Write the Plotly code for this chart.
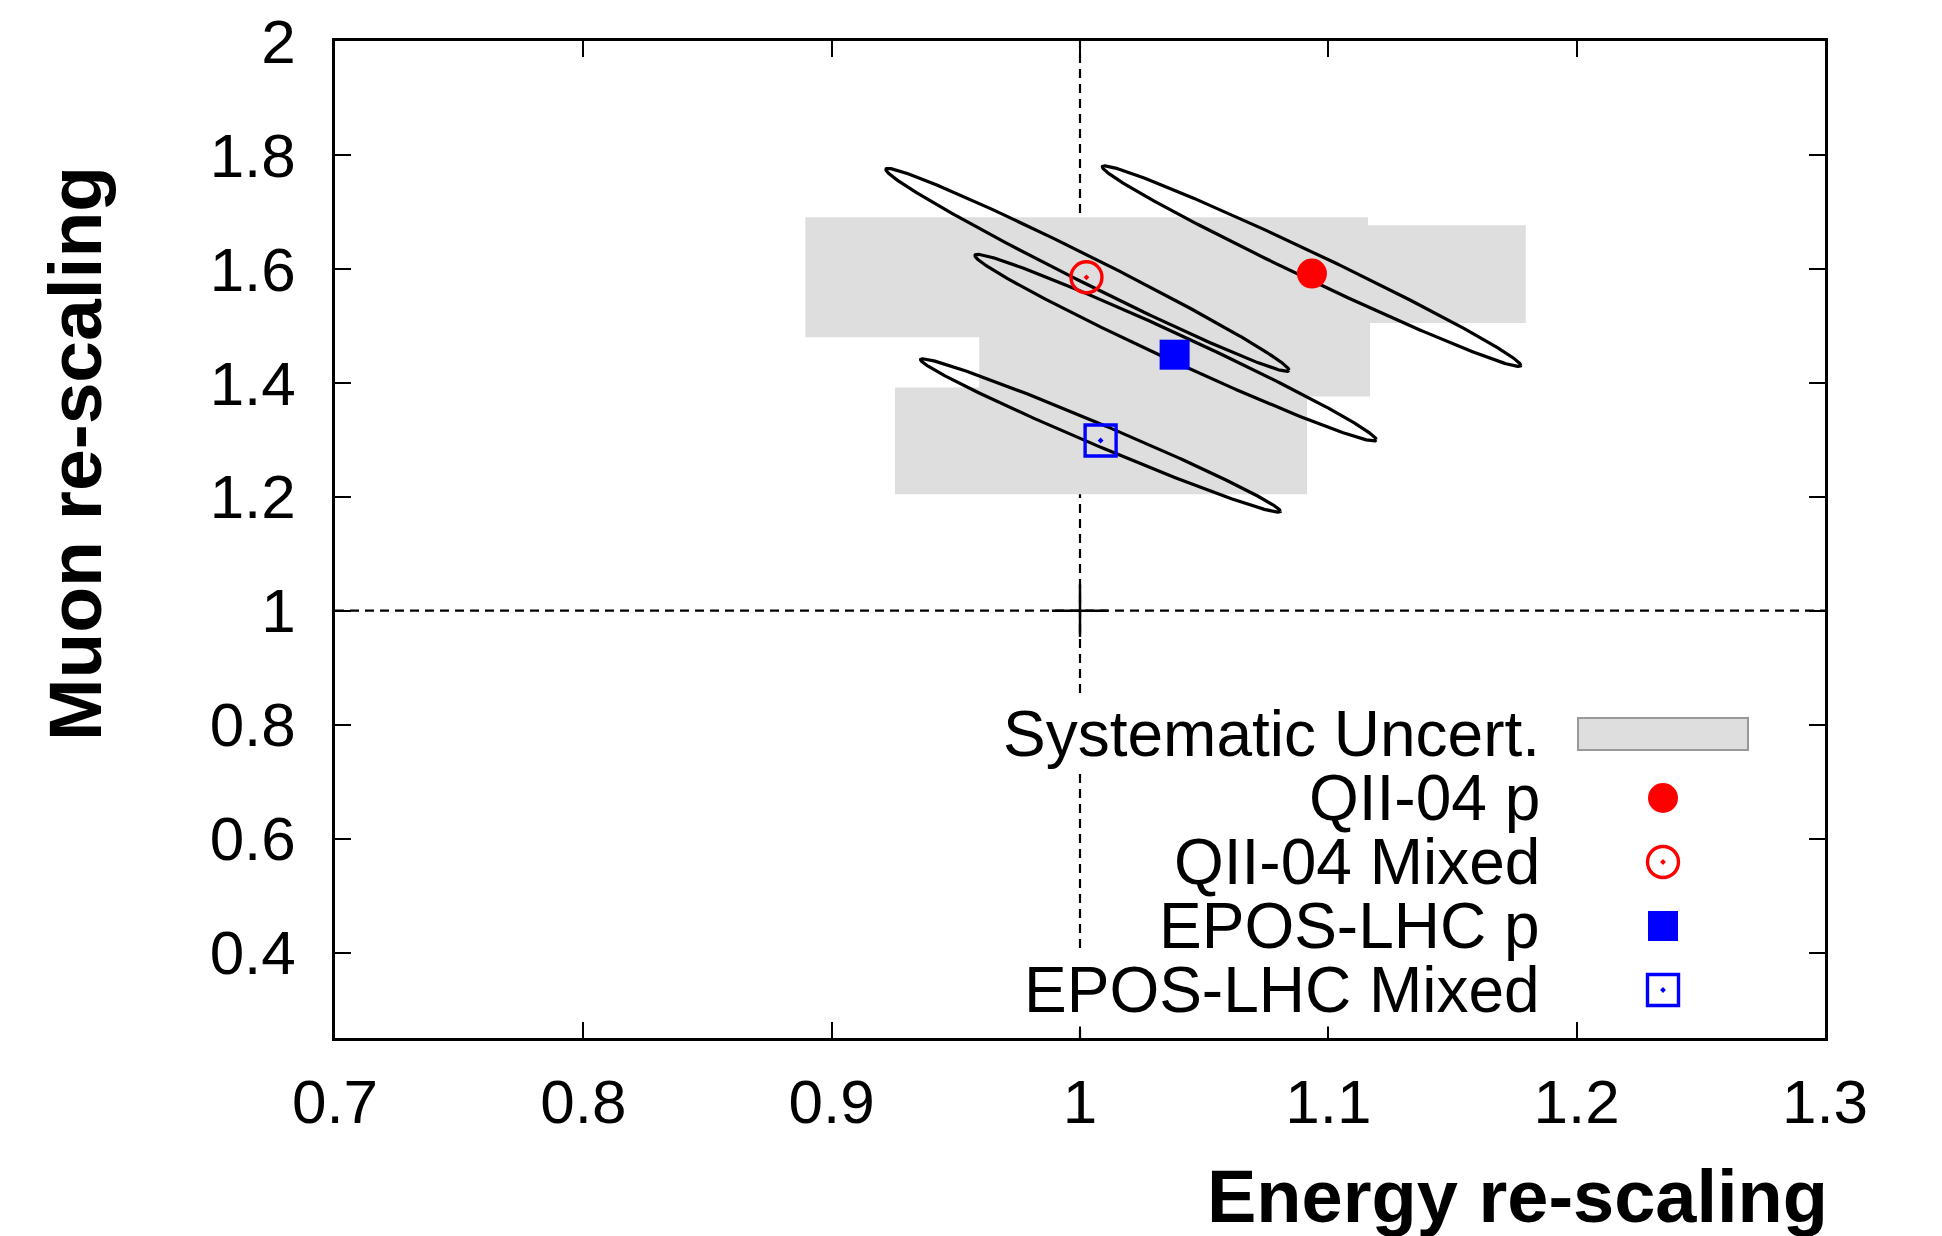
import numpy as np
import plotly.graph_objects as go

# ---------------- data ----------------
series_names = ["QII-04 p", "QII-04 Mixed", "EPOS-LHC p", "EPOS-LHC Mixed"]
best_energy = [1.0934, 1.0026, 1.0381, 1.0083]
best_muon = [1.5917, 1.5852, 1.4494, 1.2988]

# systematic uncertainty boxes
syst_x_lo = [1.0069, 0.8894, 0.9594, 0.9255]
syst_x_hi = [1.1795, 1.1160, 1.1168, 1.0914]
syst_y_lo = [1.5049, 1.4798, 1.3760, 1.2044]
syst_y_hi = [1.6766, 1.6907, 1.5228, 1.3920]

# statistical contours: tips of the ellipses and vertical half-thickness
ell_tip1_x = [1.0090, 0.9218, 0.9577, 0.9358]
ell_tip1_y = [1.7790, 1.7745, 1.6234, 1.4406]
ell_tip2_x = [1.1775, 1.0842, 1.1193, 1.0807]
ell_tip2_y = [1.4306, 1.4220, 1.3000, 1.1745]
ell_half_thick = [0.0255, 0.0260, 0.0260, 0.0205]

x_ticks = [0.7, 0.8, 0.9, 1.0, 1.1, 1.2, 1.3]
x_tick_labels = ["0.7", "0.8", "0.9", "1", "1.1", "1.2", "1.3"]
y_ticks = [0.4, 0.6, 0.8, 1.0, 1.2, 1.4, 1.6, 1.8, 2.0]
y_tick_labels = ["0.4", "0.6", "0.8", "1", "1.2", "1.4", "1.6", "1.8", "2"]

legend_labels = ["Systematic Uncert.", "QII-04 p", "QII-04 Mixed", "EPOS-LHC p", "EPOS-LHC Mixed"]
legend_opaque = [True, False, False, False, True]  # entries whose box hides the dashed line

# ---------------- styles ----------------
FONT = "Liberation Sans"
W, H = 1942, 1236
BODY = 8  # default page margin of the html body
# plot area in window pixels
PX0, PX1 = 335, 1825
PY0, PY1 = 41, 1038
L = PX0 - BODY
T = PY0 - BODY
R = W + BODY - PX1
B = H + BODY - PY1
GRAY = "#dedede"

styles = [
    dict(symbol="circle", size=30, color="#ff0000", line=dict(width=0)),
    dict(symbol="circle-open-dot", size=31, color="#ff0000", line=dict(width=3.4, color="#ff0000")),
    dict(symbol="square", size=30, color="#0000ff", line=dict(width=0)),
    dict(symbol="square-open-dot", size=31, color="#0000ff", line=dict(width=3.4, color="#0000ff")),
]


def px2paper_x(px):
    return (px - PX0) / (PX1 - PX0)


def px2paper_y(py):
    return (PY1 - py) / (PY1 - PY0)


fig = go.Figure()

shapes = []
# dashed reference lines
shapes.append(dict(type="line", xref="x", yref="paper", x0=1, x1=1, y0=0, y1=1,
                   line=dict(color="black", width=2.2, dash="9px,6px"), layer="below"))
shapes.append(dict(type="line", xref="paper", yref="y", x0=0, x1=1, y0=1, y1=1,
                   line=dict(color="black", width=2.2, dash="9px,6px"), layer="below"))
# small solid cross at (1,1)
shapes.append(dict(type="line", xref="x", yref="y", x0=1 - 0.0113, x1=1 + 0.0113, y0=1, y1=1,
                   line=dict(color="black", width=2.5), layer="below"))
shapes.append(dict(type="line", xref="x", yref="y", x0=1, x1=1, y0=1 - 0.046, y1=1 + 0.046,
                   line=dict(color="black", width=2.5), layer="below"))
# systematic boxes
for i in range(len(syst_x_lo)):
    shapes.append(dict(type="rect", xref="x", yref="y",
                       x0=syst_x_lo[i], x1=syst_x_hi[i], y0=syst_y_lo[i], y1=syst_y_hi[i],
                       fillcolor=GRAY, line=dict(width=0), layer="below"))

# contours
t = np.linspace(0, 2 * np.pi, 400)
for i in range(len(ell_tip1_x)):
    cx = (ell_tip1_x[i] + ell_tip2_x[i]) / 2
    cy = (ell_tip1_y[i] + ell_tip2_y[i]) / 2
    ax = (ell_tip2_x[i] - ell_tip1_x[i]) / 2
    ay = (ell_tip2_y[i] - ell_tip1_y[i]) / 2
    xs = cx + ax * np.cos(t)
    ys = cy + ay * np.cos(t) + ell_half_thick[i] * np.sin(t)
    fig.add_trace(go.Scatter(x=xs, y=ys, mode="lines", line=dict(color="black", width=3.2),
                             hoverinfo="skip", showlegend=False))

# best-fit markers
for i in range(len(series_names)):
    fig.add_trace(go.Scatter(x=[best_energy[i]], y=[best_muon[i]], mode="markers",
                             marker=styles[i], name=series_names[i], showlegend=False))

# ---------------- manual legend (gnuplot-style: text right, sample left) ----------------
LEG_TEXT_X = 1541
LEG_SYM_X = 1663
LEG_ROWS = [734, 798, 862, 926, 990]
annotations = []
# opaque entries first so that the other entries' descenders are drawn on top
order = [j for j in range(len(legend_labels)) if legend_opaque[j]] + \
        [j for j in range(len(legend_labels)) if not legend_opaque[j]]
for j in order:
    ann = dict(text=legend_labels[j], xref="paper", yref="paper",
               x=px2paper_x(LEG_TEXT_X), y=px2paper_y(LEG_ROWS[j]),
               xanchor="right", yanchor="middle", showarrow=False, borderpad=0,
               font=dict(family=FONT, size=64, color="black"))
    if legend_opaque[j]:
        ann["bgcolor"] = "white"
    annotations.append(ann)
shapes.append(dict(type="rect", xref="paper", yref="paper",
                   x0=px2paper_x(1578), x1=px2paper_x(1748),
                   y0=px2paper_y(750), y1=px2paper_y(718),
                   fillcolor=GRAY, line=dict(color="#999999", width=2), layer="above"))
for i in range(len(series_names)):
    fig.add_trace(go.Scatter(x=[LEG_SYM_X], y=[LEG_ROWS[i + 1]], mode="markers",
                             marker=styles[i], xaxis="x2", yaxis="y2",
                             hoverinfo="skip", showlegend=False))

# axis titles
annotations.append(dict(text="<b>Energy re-scaling</b>", xref="paper", yref="paper",
                        x=px2paper_x(1830), y=px2paper_y(1196), xanchor="right", yanchor="middle",
                        showarrow=False, font=dict(family=FONT, size=74, color="black")))
annotations.append(dict(text="<b>Muon re-scaling</b>", xref="paper", yref="paper",
                        x=px2paper_x(75), y=px2paper_y(454), xanchor="center", yanchor="middle",
                        textangle=-90, showarrow=False,
                        font=dict(family=FONT, size=75, color="black")))

axis_common = dict(showgrid=False, zeroline=False, showline=True, linecolor="black",
                   linewidth=2.5, mirror="ticks", ticks="inside", ticklen=16,
                   tickwidth=2, tickcolor="black", ticklabeloverflow="allow",
                   tickfont=dict(family=FONT, size=62, color="black"))

fig.update_layout(
    width=W, height=H,
    margin=dict(l=L, r=R, t=T, b=B, autoexpand=False),
    paper_bgcolor="white", plot_bgcolor="white",
    showlegend=False,
    xaxis=dict(range=[0.7, 1.3], tickvals=x_ticks, ticktext=x_tick_labels,
               ticklabelstandoff=8, **axis_common),
    yaxis=dict(range=[0.25, 2.0], tickvals=y_ticks, ticktext=y_tick_labels,
               ticklabelstandoff=24, **axis_common),
    xaxis2=dict(range=[PX0, PX1], overlaying="x", visible=False, fixedrange=True),
    yaxis2=dict(range=[PY1, PY0], overlaying="y", visible=False, fixedrange=True),
    shapes=shapes,
    annotations=annotations,
)

fig.write_html("out.html")
